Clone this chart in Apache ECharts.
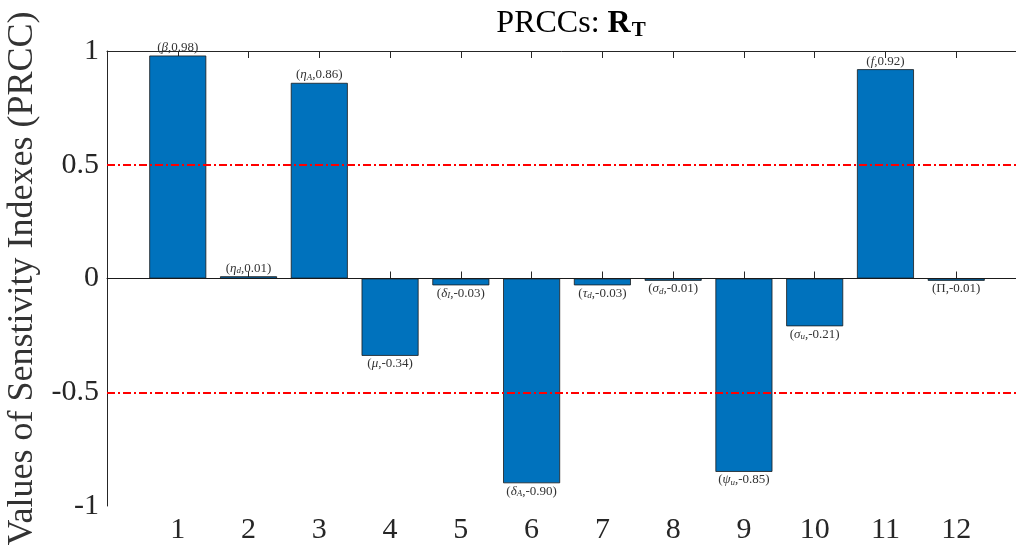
<!DOCTYPE html>
<html>
<head>
<meta charset="utf-8">
<script src="https://cdn.jsdelivr.net/npm/echarts@6/dist/echarts.min.js"></script>
<style>html,body{margin:0;padding:0;background:#fff}#c{width:1016px;height:548px}</style>
</head>
<body>
<div id="c"></div>
<script>
const categories = [1, 2, 3, 4, 5, 6, 7, 8, 9, 10, 11, 12];
const prccValues = [0.98, 0.01, 0.86, -0.34, -0.03, -0.90, -0.03, -0.01, -0.85, -0.21, 0.92, -0.01];
const paramSymbols = ['β', 'η', 'η', 'μ', 'δ', 'δ', 'τ', 'σ', 'ψ', 'σ', 'f', 'Π'];
const paramSubs = ['', 'd', 'A', '', 'I', 'A', 'd', 'd', 'u', 'u', '', ''];
const yTicks = [-1, -0.5, 0, 0.5, 1];
const thresholds = [0.5, -0.5];

const serif = '"Liberation Serif", "DejaVu Serif", serif';
const axisColor = '#262626';

const chart = echarts.init(document.getElementById('c'));

const barData = categories.map((c, i) => ({
  value: [c, prccValues[i]],
  label: { position: prccValues[i] >= 0 ? 'top' : 'bottom' }
}));

function labelFmt(p) {
  const i = p.dataIndex;
  const sym = paramSymbols[i];
  const symStyle = sym === 'Π' ? 'u' : 'g';
  const sub = paramSubs[i] ? '{s|' + paramSubs[i] + '}' : '';
  return '{p|(}{' + symStyle + '|' + sym + '}' + sub + '{p|,' + prccValues[i].toFixed(2) + ')}';
}

chart.setOption({
  animation: false,
  backgroundColor: '#fff',
  title: {
    text: '{a|PRCCs: }{b|R}{c|T}',
    left: 566,
    textAlign: 'center',
    top: 0,
    textStyle: {
      fontWeight: 'normal',
      rich: {
        a: { fontFamily: serif, fontSize: 32, fontWeight: 'normal', color: '#000', lineHeight: 38 },
        b: { fontFamily: serif, fontSize: 32, fontWeight: 'bold', color: '#000', lineHeight: 38 },
        c: { fontFamily: serif, fontSize: 21, fontWeight: 'bold', color: '#000', lineHeight: 38, padding: [13, 0, 0, 1] }
      }
    }
  },
  grid: { left: 107, right: -11, top: 51, bottom: 42, containLabel: false, outerBoundsMode: 'none' },
  xAxis: [{
    type: 'value',
    min: 0, max: 13, interval: 1,
    position: 'bottom',
    axisLine: { show: true, lineStyle: { color: axisColor, width: 1 } },
    axisTick: { show: true, inside: true, length: 7, lineStyle: { color: axisColor } },
    splitLine: { show: false },
    axisLabel: {
      fontFamily: serif, fontSize: 30, color: axisColor, margin: 9,
      formatter: v => (categories.indexOf(v) >= 0 ? String(v) : '')
    }
  }, {
    type: 'value',
    min: 0, max: 13, interval: 1,
    position: 'top',
    axisLine: { show: true, lineStyle: { color: axisColor, width: 1 } },
    axisTick: { show: true, inside: true, length: 7, lineStyle: { color: axisColor } },
    splitLine: { show: false },
    axisLabel: { show: false }
  }],
  yAxis: {
    type: 'value',
    min: -1, max: 1, interval: 0.5,
    name: 'Values of Senstivity Indexes (PRCC)',
    nameLocation: 'middle',
    nameGap: 56,
    nameTextStyle: { fontFamily: serif, fontSize: 36, color: '#333' },
    axisLine: { show: true, lineStyle: { color: axisColor, width: 1 } },
    axisTick: { show: false },
    splitLine: { show: false },
    axisLabel: {
      fontFamily: serif, fontSize: 30, color: axisColor, margin: 8,
      formatter: v => (yTicks.indexOf(v) >= 0 ? String(v) : '')
    }
  },
  series: [{
    type: 'bar',
    data: barData,
    barWidth: 57,
    itemStyle: { color: '#0072BD', borderColor: '#1a1a1a', borderWidth: 0.8 },
    label: {
      show: true,
      distance: 1,
      formatter: labelFmt,
      rich: {
        p: { fontFamily: serif, fontSize: 13, color: '#333' },
        g: { fontFamily: serif, fontSize: 13, fontStyle: 'italic', color: '#333' },
        u: { fontFamily: serif, fontSize: 13, color: '#333' },
        s: { fontFamily: serif, fontSize: 9, fontStyle: 'italic', color: '#333', padding: [5, 0, 0, 0] }
      }
    },
    markLine: {
      silent: true,
      symbol: 'none',
      label: { show: false },
      data: [
        { yAxis: 0, lineStyle: { color: '#1a1a1a', width: 1, type: 'solid' } },
        ...thresholds.map(t => ({ yAxis: t, lineStyle: { color: '#ff0000', width: 2, type: [8, 3, 2, 3] } }))
      ]
    }
  }]
});
</script>
</body>
</html>
